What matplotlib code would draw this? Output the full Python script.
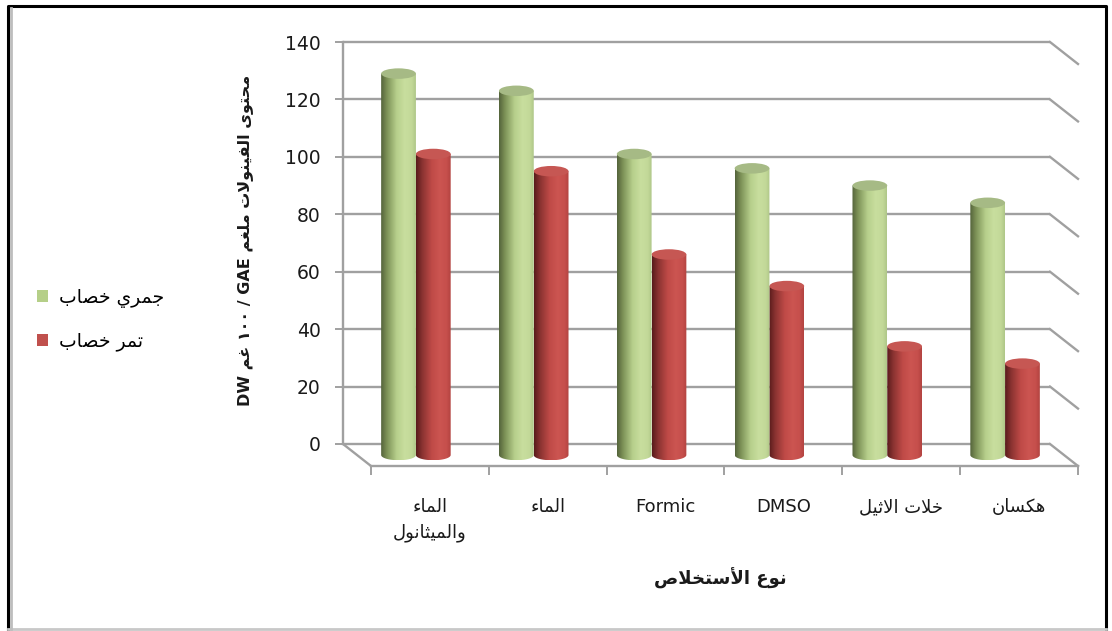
import numpy as np
import matplotlib
matplotlib.use("Agg")
import matplotlib.pyplot as plt
from matplotlib.patches import Polygon, Ellipse, Patch
from matplotlib.lines import Line2D
from matplotlib.colors import LinearSegmentedColormap

# ---------------- data ----------------
categories = ["الماء\nوالميثانول", "الماء", "Formic", "DMSO", "خلات الاثيل", "هكسان"]
series_names = ["جمري خصاب", "تمر خصاب"]
green_values = [129, 123, 101, 96, 90, 84]
red_values = [101, 95, 66, 55, 34, 28]
y_ticks = [0, 20, 40, 60, 80, 100, 120, 140]
y_label = "محتوى الفينولات ملغم GAE / ١٠٠ غم DW"
x_label = "نوع الأستخلاص"

# ---------------- minimal Arabic shaping (presentation forms, visual order) ----------------
DUAL = {'ئ': 0xFE89, 'ب': 0xFE8F, 'ت': 0xFE95, 'ث': 0xFE99, 'ج': 0xFE9D, 'ح': 0xFEA1,
        'خ': 0xFEA5, 'س': 0xFEB1, 'ش': 0xFEB5, 'ص': 0xFEB9, 'ض': 0xFEBD, 'ط': 0xFEC1,
        'ظ': 0xFEC5, 'ع': 0xFEC9, 'غ': 0xFECD, 'ف': 0xFED1, 'ق': 0xFED5, 'ك': 0xFED9,
        'ل': 0xFEDD, 'م': 0xFEE1, 'ن': 0xFEE5, 'ه': 0xFEE9, 'ي': 0xFEF1}
RIGHT = {'آ': 0xFE81, 'أ': 0xFE83, 'ؤ': 0xFE85, 'إ': 0xFE87, 'ا': 0xFE8D, 'ة': 0xFE93,
         'د': 0xFEA9, 'ذ': 0xFEAB, 'ر': 0xFEAD, 'ز': 0xFEAF, 'و': 0xFEED, 'ى': 0xFEEF}
NONJ = {'ء': 0xFE80}
LAMALEF = {'آ': 0xFEF5, 'أ': 0xFEF7, 'إ': 0xFEF9, 'ا': 0xFEFB}
ALL_AR = set(DUAL) | set(RIGHT) | set(NONJ)


def shape_word(w):
    if not any(c in ALL_AR for c in w):
        return w
    tokens = []
    i = 0
    while i < len(w):
        c = w[i]
        if c == 'ل' and i + 1 < len(w) and w[i + 1] in LAMALEF:
            tokens.append(('LA', w[i + 1]))
            i += 2
        else:
            tokens.append(('C', c))
            i += 1
    res = []
    for k, (t, c) in enumerate(tokens):
        prev = tokens[k - 1] if k > 0 else None
        nxt = tokens[k + 1] if k + 1 < len(tokens) else None
        pc = prev is not None and prev[0] == 'C' and prev[1] in DUAL
        if t == 'LA':
            res.append(chr(LAMALEF[c] + (1 if pc else 0)))
            continue
        if c in DUAL:
            na = nxt is not None and (nxt[0] == 'LA' or nxt[1] in DUAL or nxt[1] in RIGHT)
            b = DUAL[c]
            code = b + 3 if (pc and na) else b + 1 if pc else b + 2 if na else b
        elif c in RIGHT:
            code = RIGHT[c] + (1 if pc else 0)
        elif c in NONJ:
            code = NONJ[c]
        else:
            res.append(c)
            continue
        res.append(chr(code))
    return ''.join(reversed(res))


def visual(text):
    lines = []
    for line in text.split('\n'):
        words = line.split(' ')
        if any(ch in ALL_AR for ch in line):
            words = list(reversed(words))
        lines.append(' '.join(shape_word(wd) for wd in words))
    return '\n'.join(lines)


plt.rcParams['font.family'] = ['DejaVu Sans']

# ---------------- layout ----------------
W, H = 1112, 631
fig = plt.figure(figsize=(W / 100, H / 100), dpi=100)
fig.patch.set_facecolor('white')

PX_X0, PX_PER_X = 343.0, 707.0 / 6
PX_Y0, PX_PER_Y = 444.0, 402.0 / 140
XL, XR = -0.2, 6.4
YB, YT = -14.0, 145.0
ax_left = PX_X0 + XL * PX_PER_X
ax_right = PX_X0 + XR * PX_PER_X
ax_top = PX_Y0 - YT * PX_PER_Y
ax_bot = PX_Y0 - YB * PX_PER_Y
ax = fig.add_axes([ax_left / W, 1 - ax_bot / H, (ax_right - ax_left) / W, (ax_bot - ax_top) / H])
ax.set_xlim(XL, XR)
ax.set_ylim(YB, YT)
ax.set_facecolor('none')

DX = 28.0 / PX_PER_X      # depth offset (data units)
DY = -22.0 / PX_PER_Y
grid_c = '#a0a0a0'

n = len(categories)
# back wall grid + side wall + floor
for v in y_ticks:
    ax.plot([0, n], [v, v], color=grid_c, lw=1.7, zorder=1, solid_capstyle='butt')
    ax.plot([n, n + DX], [v, v + DY], color=grid_c, lw=1.7, zorder=1)
ax.plot([0, DX], [0, DY], color=grid_c, lw=1.7, zorder=1)

for s in ['top', 'right']:
    ax.spines[s].set_visible(False)
ax.spines['left'].set_position(('data', 0))
ax.spines['left'].set_bounds(0, y_ticks[-1])
ax.spines['left'].set_color(grid_c)
ax.spines['left'].set_linewidth(1.7)
ax.spines['bottom'].set_position(('data', DY))
ax.spines['bottom'].set_bounds(DX, n + DX)
ax.spines['bottom'].set_color(grid_c)
ax.spines['bottom'].set_linewidth(1.7)

ax.set_yticks(y_ticks)
ax.set_yticklabels([str(v) for v in y_ticks])
ax.tick_params(axis='y', direction='out', length=6, width=1.4, color=grid_c,
               labelsize=13.5, labelcolor='#1a1a1a', pad=10)
ax.set_xticks([i + 0.5 + DX for i in range(n)])
ax.set_xticklabels([visual(c) for c in categories])
ax.set_xticks([i + DX for i in range(n + 1)], minor=True)
ax.tick_params(axis='x', which='major', length=0, labelsize=13, labelcolor='#1a1a1a', pad=23)
ax.tick_params(axis='x', which='minor', direction='out', length=6.5, width=1.4, color=grid_c)
for lab in ax.get_xticklabels():
    lab.set_linespacing(1.55)

# ---------------- cylinders ----------------
green_cmap = LinearSegmentedColormap.from_list('g', [(0, '#53633a'), (0.18, '#7f9459'), (0.45, '#b7cf8c'),
                                                    (0.68, '#c8de9e'), (0.88, '#c3d999'), (1, '#aec687')])
red_cmap = LinearSegmentedColormap.from_list('r', [(0, '#581b1b'), (0.18, '#8a3331'), (0.45, '#bf4a47'),
                                                  (0.68, '#cc5551'), (0.88, '#c64f4c'), (1, '#b24340')])
BW = 0.295
BOTTOM = DY / 2
ELL_H = 10.5 / PX_PER_Y
centers = np.arange(n) + 0.5 + DX / 2


def cylinders(values, offset, cmap, top_color, z):
    bars = ax.bar(centers + offset, np.array(values) - BOTTOM, bottom=BOTTOM, width=BW,
                  facecolor='none', edgecolor='none', zorder=z)
    for r in bars:
        x0, y0, w, h = r.get_x(), r.get_y(), r.get_width(), r.get_height()
        xc, top = x0 + w / 2, y0 + h
        t = np.linspace(np.pi, 2 * np.pi, 60)
        arc = np.column_stack([xc + w / 2 * np.cos(t), y0 + ELL_H / 2 * np.sin(t)])
        poly = np.vstack([[x0, top], arc, [x0 + w, top]])
        clip = Polygon(poly, closed=True, facecolor='none', edgecolor='none', zorder=z)
        ax.add_patch(clip)
        im = ax.imshow(np.linspace(0, 1, 256).reshape(1, -1), cmap=cmap,
                       extent=[x0, x0 + w, y0 - ELL_H / 2, top], aspect='auto',
                       interpolation='bilinear', origin='lower', zorder=z)
        im.set_clip_path(clip)
        ax.add_patch(Ellipse((xc, top), w, ELL_H, facecolor=top_color, edgecolor='none', zorder=z + 0.1))


cylinders(red_values, BW / 2, red_cmap, '#c65753', 3)
cylinders(green_values, -BW / 2, green_cmap, '#a6ba85', 3.5)
ax.set_xlim(XL, XR)
ax.set_ylim(YB, YT)

# ---------------- labels ----------------
ax.set_ylabel(visual(y_label), fontsize=11.5, fontweight='bold', color='#1a1a1a')
ax.yaxis.set_label_coords((253 - ax_left) / (ax_right - ax_left), (ax_bot - 240) / (ax_bot - ax_top))
ax.set_xlabel(visual(x_label), fontsize=13, fontweight='bold', color='#1a1a1a')
ax.xaxis.set_label_coords((720 - ax_left) / (ax_right - ax_left), (ax_bot - 568) / (ax_bot - ax_top))

handles = [Patch(facecolor='#b5cf88', edgecolor='none'), Patch(facecolor='#c0504d', edgecolor='none')]
fig.legend(handles, [visual(s) for s in series_names], loc='upper left',
           bbox_to_anchor=(37 / W, 1 - 288 / H), frameon=False, fontsize=13.5,
           handlelength=0.6, handleheight=0.6, handletextpad=0.55, labelspacing=1.25,
           borderpad=0, borderaxespad=0)

# frame around the picture
fx0, fx1, fy0, fy1 = 8 / W, 1106 / W, 1 - 629 / H, 1 - 6 / H
fig.add_artist(Line2D([fx0, fx0, fx1, fx1], [fy0, fy1, fy1, fy0], transform=fig.transFigure,
                      color='black', lw=2.2))
fig.add_artist(Line2D([fx0, fx1], [fy0, fy0], transform=fig.transFigure, color='#c8c8c8', lw=2))
fig.add_artist(Line2D([10.5 / W, 10.5 / W], [fy0, fy1 - 2 / H], transform=fig.transFigure,
                      color='#bdbdbd', lw=2))

fig.savefig('out.png', dpi=100)
